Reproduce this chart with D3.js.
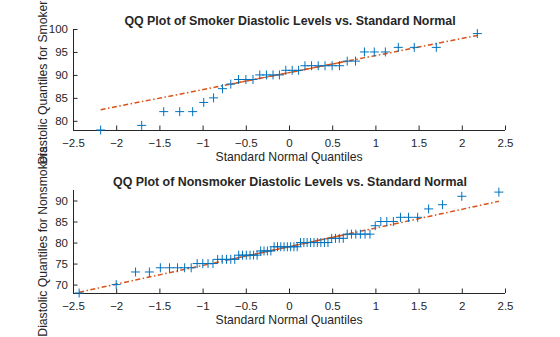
<!DOCTYPE html>
<html><head><meta charset="utf-8">
<script src="https://cdn.jsdelivr.net/npm/d3@7/dist/d3.min.js"></script>
<style>
body{margin:0;background:#fff}
svg{display:block}
text{font-family:"Liberation Sans",Arial,Helvetica,sans-serif;fill:#262626}
</style>
</head><body>
<svg id="c" width="560" height="337"></svg>
<script>
// ---- data ----
const xTicks = [-2.5,-2,-1.5,-1,-0.5,0,0.5,1,1.5,2,2.5];
const smokerYTicks = [80,85,90,95,100];
const nonsmokerYTicks = [70,75,80,85,90];

const smokerQ = [-2.180,-1.705,-1.450,-1.265,-1.115,-0.987,-0.873,-0.770,-0.674,-0.584,-0.499,-0.417,-0.338,-0.261,-0.185,-0.111,-0.037,
                  0.037,0.111,0.185,0.261,0.338,0.417,0.499,0.584,0.674,0.770,0.873,0.987,1.115,1.265,1.450,1.705,2.180];
const smokerDia = [78,79,82,82,82,84,85,87,88,89,89,89,90,90,90,90,91,
                   91,91,92,92,92,92,92,92,93,93,95,95,95,96,96,96,99];

const nonsmokerQ = [-2.429,-2.000,-1.776,-1.616,-1.489,-1.383,-1.290,-1.208,-1.132,-1.063,-0.998,-0.937,-0.880,-0.826,-0.773,-0.723,-0.674,
                    -0.628,-0.582,-0.538,-0.494,-0.451,-0.410,-0.369,-0.328,-0.289,-0.250,-0.210,-0.172,-0.133,-0.095,-0.057,-0.019,
                     0.019,0.057,0.095,0.133,0.172,0.210,0.250,0.289,0.328,0.369,0.410,0.451,0.494,0.538,0.582,0.628,
                     0.674,0.723,0.773,0.826,0.880,0.937,0.998,1.063,1.132,1.208,1.290,1.383,1.489,1.616,1.776,2.000,2.429];
const nonsmokerDia = [68,70,73,73,74,74,74,74,74,75,75,75,75,76,76,76,76,
                      76,77,77,77,77,77,77,78,78,78,78,79,79,79,79,79,
                      79,79,79,80,80,80,80,80,80,80,80,80,81,81,81,81,
                      82,82,82,82,82,82,84,85,85,85,86,86,86,88,89,91,92];

const panels = [
  {title:"QQ Plot of Smoker Diastolic Levels vs. Standard Normal", ylabel:"Diastolic Quantiles for Smokers",
   q:smokerQ, v:smokerDia, yTicks:smokerYTicks, yDom:[78,100], box:{l:73,r:505,t:29,b:130}},
  {title:"QQ Plot of Nonsmoker Diastolic Levels vs. Standard Normal", ylabel:"Diastolic Quantiles for Nonsmokers",
   q:nonsmokerQ, v:nonsmokerDia, yTicks:nonsmokerYTicks, yDom:[68,92.5], box:{l:73,r:505,t:190,b:293}}
];

// MATLAB-style percentile
function prctile(s, p){
  const n = s.length, pos = n*p/100 + 0.5;
  if (pos <= 1) return s[0];
  if (pos >= n) return s[n-1];
  const lo = Math.floor(pos), f = pos - lo;
  return s[lo-1] + f*(s[lo]-s[lo-1]);
}

const svg = d3.select("#c");
const axisCol = "#262626";
const blue = "#0072BD", orange = "#D95319";

panels.forEach(P => {
  const B = P.box;
  const x = d3.scaleLinear().domain([-2.5,2.5]).range([B.l,B.r]);
  const y = d3.scaleLinear().domain(P.yDom).range([B.b,B.t]);
  const g = svg.append("g");

  const xa = g.append("g").attr("transform",`translate(0,${B.b})`)
    .call(d3.axisBottom(x).tickValues(xTicks).tickSizeInner(-4.5).tickSizeOuter(0).tickPadding(9)
      .tickFormat(d => d3.format("")(d)));
  const ya = g.append("g").attr("transform",`translate(${B.l},0)`)
    .call(d3.axisLeft(y).tickValues(P.yTicks).tickSizeInner(-4.5).tickSizeOuter(0).tickPadding(5));
  [xa,ya].forEach(a => {
    a.select(".domain").attr("stroke",axisCol).attr("stroke-width",1);
    a.selectAll(".tick line").attr("stroke",axisCol);
    a.selectAll("text").attr("font-size",11.5).attr("fill",axisCol)
      .style("font-family",'"Liberation Sans",Arial,sans-serif');
  });
  xa.select(".domain").attr("d",`M${B.l},0.5H${B.r}`);
  ya.select(".domain").attr("d",`M0.5,${B.b}V${B.t}`);

  // reference lines (through first & third quartiles)
  const sv = P.v.slice().sort((a,b)=>a-b);
  const q1x = prctile(P.q,25), q3x = prctile(P.q,75);
  const q1y = prctile(sv,25), q3y = prctile(sv,75);
  const slope = (q3y-q1y)/(q3x-q1x);
  const f = t => q1y + slope*(t-q1x);
  const minx = d3.min(P.q), maxx = d3.max(P.q);
  g.append("line").attr("x1",x(minx)).attr("y1",y(f(minx))).attr("x2",x(maxx)).attr("y2",y(f(maxx)))
    .attr("stroke",orange).attr("stroke-width",1.5).attr("stroke-dasharray","5,2.5,1.5,2.5");
  g.append("line").attr("x1",x(q1x)).attr("y1",y(q1y)).attr("x2",x(q3x)).attr("y2",y(q3y))
    .attr("stroke",orange).attr("stroke-width",1.2);

  // markers
  const s = 4.5;
  g.append("g").selectAll("path").data(P.q.map((d,i)=>[d,P.v[i]])).join("path")
    .attr("d", d => { const cx=x(d[0]), cy=y(d[1]); return `M${cx-s},${cy}H${cx+s}M${cx},${cy-s}V${cy+s}`; })
    .attr("stroke",blue).attr("stroke-width",1).attr("fill","none");

  g.append("text").attr("x",(B.l+B.r)/2 + 1).attr("y",B.t-4.5).attr("text-anchor","middle")
    .attr("font-size",12.4).attr("font-weight","bold").text(P.title);
  g.append("text").attr("x",(B.l+B.r)/2).attr("y",B.b+31).attr("text-anchor","middle")
    .attr("font-size",12.2).text("Standard Normal Quantiles");
  g.append("text").attr("transform",`translate(${B.l-26},${(B.t+B.b)/2}) rotate(-90)`)
    .attr("text-anchor","middle").attr("font-size",12.2).text(P.ylabel);
});
</script>
</body></html>
